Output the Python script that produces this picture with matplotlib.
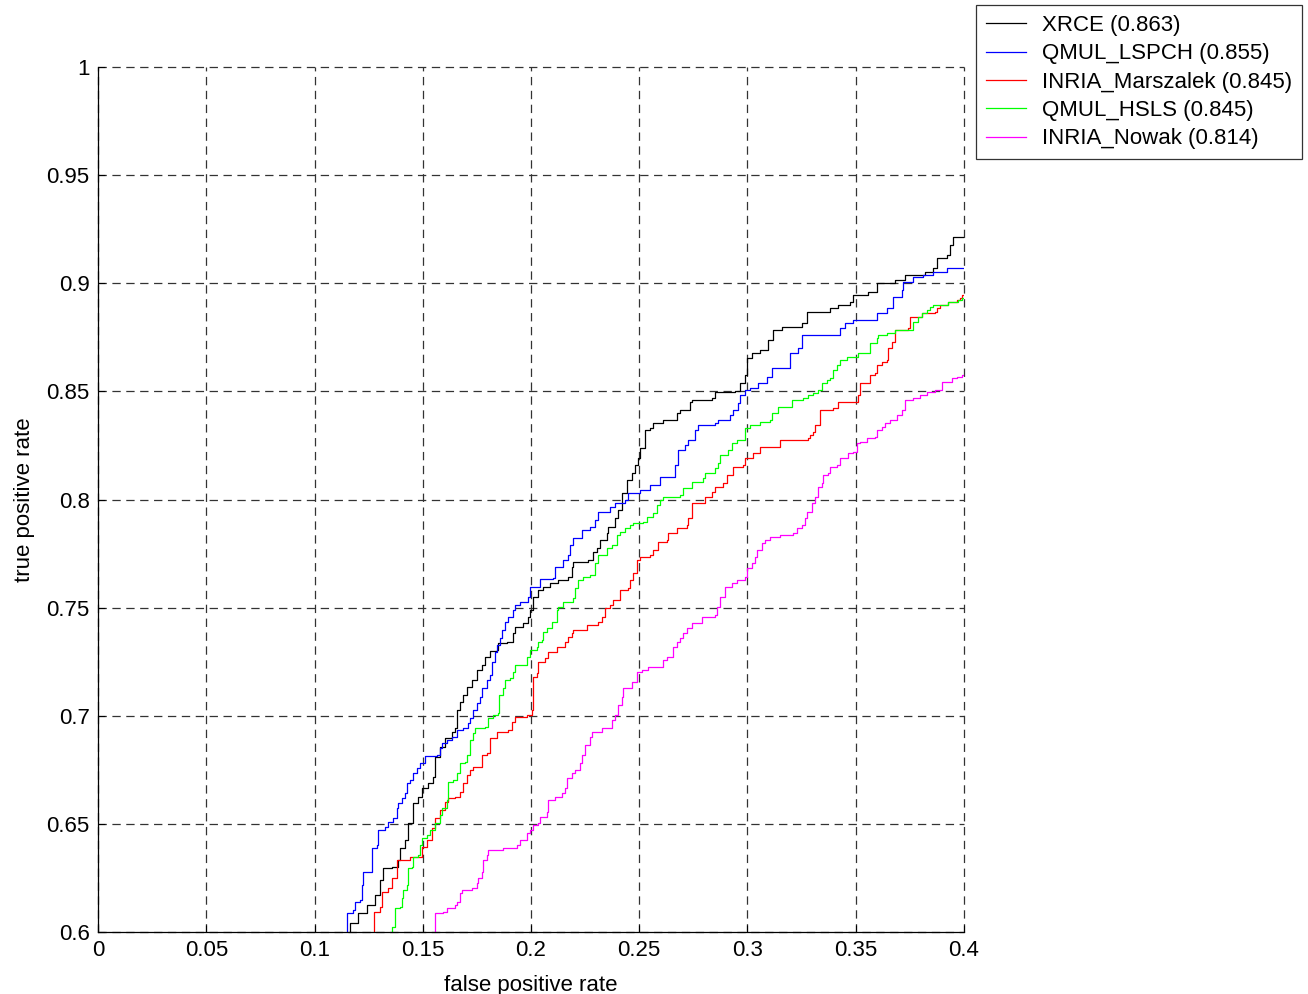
import numpy as np
import matplotlib
matplotlib.use("Agg")
import matplotlib.pyplot as plt

# nomes das series e AUC (legenda)
nomes = ["XRCE (0.863)", "QMUL_LSPCH (0.855)", "INRIA_Marszalek (0.845)",
         "QMUL_HSLS (0.845)", "INRIA_Nowak (0.814)"]
cores = ["#000000", "#0000ff", "#ff0000", "#00ff00", "#ff00ff"]

# ticks dos eixos
xticks = [0, 0.05, 0.1, 0.15, 0.2, 0.25, 0.3, 0.35, 0.4]
xtick_labels = ["0", "0.05", "0.1", "0.15", "0.2", "0.25", "0.3", "0.35", "0.4"]
yticks = [0.6, 0.65, 0.7, 0.75, 0.8, 0.85, 0.9, 0.95, 1.0]
ytick_labels = ["0.6", "0.65", "0.7", "0.75", "0.8", "0.85", "0.9", "0.95", "1"]

# curvas ROC: (false positive rate, true positive rate)
xrce = [(0.1155, 0.595), (0.1164, 0.6042), (0.1201, 0.6088), (0.1242, 0.6125), (0.1279, 0.6171),
        (0.1303, 0.6240), (0.1316, 0.6296), (0.1358, 0.6301), (0.1386, 0.6333), (0.1395, 0.6388),
        (0.1418, 0.6425), (0.1432, 0.6504), (0.1455, 0.6597), (0.1478, 0.6624), (0.1497, 0.6666),
        (0.1524, 0.6689), (0.1547, 0.6717), (0.1557, 0.6809), (0.1580, 0.6855), (0.1603, 0.6897),
        (0.1635, 0.6925), (0.1649, 0.6943), (0.1658, 0.7027), (0.1672, 0.7064), (0.1686, 0.7096),
        (0.1704, 0.7133), (0.1727, 0.7165), (0.1751, 0.7212), (0.1774, 0.7235), (0.1788, 0.7272),
        (0.1811, 0.7299), (0.1843, 0.7304), (0.1848, 0.7336), (0.1889, 0.7341), (0.1917, 0.7383),
        (0.1926, 0.7410), (0.1963, 0.7429), (0.1986, 0.7457), (0.1995, 0.7489), (0.2009, 0.7549),
        (0.2032, 0.7582), (0.2055, 0.7595), (0.2088, 0.7614), (0.2125, 0.7628), (0.2171, 0.7642),
        (0.2189, 0.7688), (0.2194, 0.7711), (0.2263, 0.7720), (0.2286, 0.7757), (0.2305, 0.7776),
        (0.2319, 0.7813), (0.2351, 0.7845), (0.2356, 0.7873), (0.2388, 0.7914), (0.2402, 0.7951),
        (0.2420, 0.8030), (0.2443, 0.8090), (0.2467, 0.8123), (0.2480, 0.8160), (0.2494, 0.8192),
        (0.2503, 0.8238), (0.2527, 0.8321), (0.2550, 0.8331), (0.2564, 0.8354), (0.2610, 0.8368),
        (0.2674, 0.8400), (0.2688, 0.8414), (0.2734, 0.8451), (0.2744, 0.8460), (0.2836, 0.8469),
        (0.2850, 0.8497), (0.2942, 0.8502), (0.2965, 0.8539), (0.2988, 0.8576), (0.2998, 0.8654),
        (0.3021, 0.8677), (0.3058, 0.8691), (0.3095, 0.8738), (0.3118, 0.8784), (0.3159, 0.8798),
        (0.3252, 0.8816), (0.3275, 0.8867), (0.3381, 0.8886), (0.3418, 0.8899), (0.3473, 0.8913),
        (0.3487, 0.8946), (0.3557, 0.8960), (0.3598, 0.9001), (0.3681, 0.9015), (0.3727, 0.9038),
        (0.3820, 0.9052), (0.3857, 0.9071), (0.3875, 0.9117), (0.3921, 0.9131), (0.3935, 0.9177),
        (0.3949, 0.9214), (0.4005, 0.9214)]

qmul_lspch = [(0.1127, 0.595), (0.1150, 0.6088), (0.1178, 0.6102), (0.1187, 0.6139), (0.1210, 0.6148),
              (0.1219, 0.6217), (0.1224, 0.6277), (0.1266, 0.6388), (0.1289, 0.6402), (0.1293, 0.6472),
              (0.1326, 0.6486), (0.1339, 0.6509), (0.1363, 0.6527), (0.1381, 0.6573), (0.1386, 0.6597),
              (0.1404, 0.6620), (0.1418, 0.6643), (0.1427, 0.6689), (0.1441, 0.6703), (0.1455, 0.6735),
              (0.1473, 0.6758), (0.1487, 0.6781), (0.1510, 0.6814), (0.1566, 0.6818), (0.1580, 0.6851),
              (0.1589, 0.6874), (0.1612, 0.6888), (0.1635, 0.6902), (0.1658, 0.6934), (0.1686, 0.6943),
              (0.1709, 0.6966), (0.1718, 0.6990), (0.1732, 0.7027), (0.1751, 0.7059), (0.1764, 0.7087),
              (0.1774, 0.7128), (0.1797, 0.7165), (0.1811, 0.7188), (0.1820, 0.7249), (0.1834, 0.7295),
              (0.1843, 0.7327), (0.1857, 0.7360), (0.1866, 0.7397), (0.1880, 0.7434), (0.1894, 0.7457),
              (0.1917, 0.7489), (0.1926, 0.7512), (0.1949, 0.7526), (0.1986, 0.7549), (0.1995, 0.7595),
              (0.2042, 0.7632), (0.2102, 0.7637), (0.2111, 0.7688), (0.2148, 0.7720), (0.2171, 0.7743),
              (0.2180, 0.7790), (0.2194, 0.7822), (0.2236, 0.7859), (0.2273, 0.7873), (0.2296, 0.7905),
              (0.2309, 0.7942), (0.2365, 0.7965), (0.2388, 0.7984), (0.2434, 0.7998), (0.2448, 0.8030),
              (0.2503, 0.8044), (0.2550, 0.8067), (0.2596, 0.8104), (0.2665, 0.8160), (0.2679, 0.8229),
              (0.2711, 0.8252), (0.2725, 0.8275), (0.2757, 0.8321), (0.2771, 0.8344), (0.2850, 0.8354),
              (0.2864, 0.8368), (0.2919, 0.8391), (0.2933, 0.8414), (0.2956, 0.8446), (0.2965, 0.8483),
              (0.2988, 0.8506), (0.3012, 0.8516), (0.3048, 0.8539), (0.3090, 0.8567), (0.3113, 0.8608),
              (0.3196, 0.8677), (0.3233, 0.8700), (0.3252, 0.8761), (0.3427, 0.8793), (0.3450, 0.8816),
              (0.3487, 0.8830), (0.3598, 0.8862), (0.3644, 0.8886), (0.3672, 0.8936), (0.3714, 0.8969),
              (0.3718, 0.9006), (0.3764, 0.9029), (0.3811, 0.9038), (0.3857, 0.9052), (0.3921, 0.9071),
              (0.4005, 0.9071)]

inria_marszalek = [(0.1266, 0.595), (0.1275, 0.6092), (0.1303, 0.6116), (0.1312, 0.6185), (0.1339, 0.6203),
                   (0.1358, 0.6250), (0.1381, 0.6333), (0.1441, 0.6347), (0.1497, 0.6393), (0.1520, 0.6425),
                   (0.1543, 0.6481), (0.1557, 0.6527), (0.1580, 0.6564), (0.1603, 0.6601), (0.1617, 0.6620),
                   (0.1649, 0.6624), (0.1672, 0.6647), (0.1686, 0.6689), (0.1704, 0.6726), (0.1718, 0.6749),
                   (0.1732, 0.6763), (0.1774, 0.6818), (0.1797, 0.6828), (0.1811, 0.6897), (0.1843, 0.6925),
                   (0.1894, 0.6934), (0.1912, 0.6971), (0.1926, 0.6994), (0.1982, 0.7003), (0.2005, 0.7027),
                   (0.2009, 0.7179), (0.2028, 0.7198), (0.2032, 0.7249), (0.2065, 0.7267), (0.2079, 0.7295),
                   (0.2120, 0.7318), (0.2157, 0.7341), (0.2171, 0.7364), (0.2189, 0.7383), (0.2194, 0.7397),
                   (0.2259, 0.7420), (0.2309, 0.7434), (0.2328, 0.7457), (0.2342, 0.7498), (0.2365, 0.7512),
                   (0.2379, 0.7535), (0.2411, 0.7582), (0.2448, 0.7591), (0.2457, 0.7628), (0.2471, 0.7660),
                   (0.2490, 0.7720), (0.2503, 0.7734), (0.2550, 0.7743), (0.2564, 0.7767), (0.2587, 0.7803),
                   (0.2628, 0.7813), (0.2633, 0.7845), (0.2674, 0.7868), (0.2720, 0.7882), (0.2725, 0.7914),
                   (0.2744, 0.7984), (0.2804, 0.8012), (0.2836, 0.8035), (0.2850, 0.8058), (0.2887, 0.8076),
                   (0.2905, 0.8113), (0.2933, 0.8150), (0.2979, 0.8160), (0.2988, 0.8192), (0.3025, 0.8215),
                   (0.3058, 0.8243), (0.3150, 0.8275), (0.3279, 0.8284), (0.3289, 0.8298), (0.3303, 0.8312),
                   (0.3312, 0.8344), (0.3335, 0.8414), (0.3395, 0.8423), (0.3418, 0.8451), (0.3510, 0.8483),
                   (0.3520, 0.8539), (0.3566, 0.8576), (0.3589, 0.8585), (0.3598, 0.8622), (0.3621, 0.8636),
                   (0.3644, 0.8645), (0.3649, 0.8700), (0.3667, 0.8728), (0.3681, 0.8784), (0.3741, 0.8793),
                   (0.3751, 0.8844), (0.3806, 0.8862), (0.3866, 0.8867), (0.3875, 0.8886), (0.3889, 0.8899),
                   (0.3926, 0.8913), (0.3968, 0.8922), (0.3982, 0.8932), (0.3991, 0.8946), (0.4005, 0.8946)]

qmul_hsls = [(0.1353, 0.595), (0.1358, 0.6023), (0.1372, 0.6111), (0.1395, 0.6116), (0.1404, 0.6157),
             (0.1409, 0.6194), (0.1427, 0.6217), (0.1432, 0.6296), (0.1450, 0.6301), (0.1455, 0.6347),
             (0.1478, 0.6356), (0.1487, 0.6402), (0.1497, 0.6435), (0.1520, 0.6449), (0.1533, 0.6472),
             (0.1557, 0.6504), (0.1580, 0.6541), (0.1589, 0.6573), (0.1612, 0.6610), (0.1617, 0.6694),
             (0.1640, 0.6703), (0.1658, 0.6735), (0.1672, 0.6781), (0.1695, 0.6786), (0.1704, 0.6818),
             (0.1718, 0.6888), (0.1732, 0.6920), (0.1741, 0.6943), (0.1788, 0.6948), (0.1801, 0.6990),
             (0.1824, 0.7003), (0.1848, 0.7013), (0.1852, 0.7096), (0.1871, 0.7128), (0.1880, 0.7165),
             (0.1903, 0.7175), (0.1917, 0.7202), (0.1926, 0.7235), (0.1982, 0.7272), (0.1995, 0.7304),
             (0.2028, 0.7318), (0.2032, 0.7341), (0.2051, 0.7350), (0.2055, 0.7387), (0.2074, 0.7406),
             (0.2097, 0.7434), (0.2120, 0.7489), (0.2125, 0.7503), (0.2148, 0.7526), (0.2194, 0.7545),
             (0.2203, 0.7591), (0.2217, 0.7628), (0.2240, 0.7642), (0.2273, 0.7651), (0.2296, 0.7706),
             (0.2309, 0.7743), (0.2351, 0.7776), (0.2374, 0.7790), (0.2397, 0.7836), (0.2411, 0.7850),
             (0.2434, 0.7868), (0.2457, 0.7882), (0.2471, 0.7891), (0.2517, 0.7896), (0.2536, 0.7919),
             (0.2564, 0.7938), (0.2582, 0.7975), (0.2596, 0.7998), (0.2610, 0.8012), (0.2688, 0.8021),
             (0.2702, 0.8053), (0.2744, 0.8081), (0.2794, 0.8099), (0.2804, 0.8123), (0.2850, 0.8146),
             (0.2864, 0.8169), (0.2873, 0.8206), (0.2910, 0.8229), (0.2928, 0.8261), (0.2952, 0.8275),
             (0.2988, 0.8331), (0.3012, 0.8344), (0.3058, 0.8358), (0.3104, 0.8368), (0.3113, 0.8400),
             (0.3141, 0.8428), (0.3206, 0.8460), (0.3256, 0.8469), (0.3279, 0.8483), (0.3303, 0.8492),
             (0.3326, 0.8506), (0.3344, 0.8539), (0.3367, 0.8553), (0.3381, 0.8562), (0.3395, 0.8599),
             (0.3413, 0.8622), (0.3427, 0.8645), (0.3460, 0.8659), (0.3510, 0.8677), (0.3566, 0.8724),
             (0.3598, 0.8747), (0.3603, 0.8761), (0.3644, 0.8770), (0.3681, 0.8784), (0.3764, 0.8821),
             (0.3788, 0.8844), (0.3806, 0.8862), (0.3829, 0.8876), (0.3843, 0.8890), (0.3857, 0.8899),
             (0.3926, 0.8913), (0.3972, 0.8922), (0.3991, 0.8932), (0.4005, 0.8936)]

inria_nowak = [(0.1547, 0.595), (0.1557, 0.6088), (0.1594, 0.6092), (0.1612, 0.6111), (0.1649, 0.6125),
               (0.1658, 0.6139), (0.1672, 0.6180), (0.1681, 0.6194), (0.1727, 0.6203), (0.1751, 0.6227),
               (0.1755, 0.6250), (0.1774, 0.6277), (0.1778, 0.6333), (0.1797, 0.6356), (0.1801, 0.6379),
               (0.1871, 0.6388), (0.1935, 0.6402), (0.1949, 0.6425), (0.1982, 0.6458), (0.1995, 0.6472),
               (0.2009, 0.6495), (0.2032, 0.6504), (0.2042, 0.6532), (0.2074, 0.6555), (0.2079, 0.6610),
               (0.2111, 0.6624), (0.2143, 0.6643), (0.2157, 0.6666), (0.2166, 0.6712), (0.2189, 0.6735),
               (0.2203, 0.6749), (0.2226, 0.6781), (0.2236, 0.6818), (0.2249, 0.6865), (0.2273, 0.6902),
               (0.2282, 0.6925), (0.2328, 0.6943), (0.2374, 0.6980), (0.2388, 0.7003), (0.2402, 0.7050),
               (0.2420, 0.7087), (0.2425, 0.7128), (0.2467, 0.7156), (0.2490, 0.7202), (0.2513, 0.7212),
               (0.2540, 0.7225), (0.2610, 0.7258), (0.2628, 0.7272), (0.2656, 0.7318), (0.2674, 0.7341),
               (0.2688, 0.7360), (0.2702, 0.7383), (0.2720, 0.7406), (0.2744, 0.7429), (0.2790, 0.7457),
               (0.2850, 0.7466), (0.2859, 0.7503), (0.2873, 0.7549),
               (0.2896, 0.7595), (0.2928, 0.7614), (0.2952, 0.7628), (0.2988, 0.7642), (0.2998, 0.7683),
               (0.3021, 0.7706), (0.3035, 0.7734), (0.3044, 0.7767), (0.3067, 0.7799), (0.3081, 0.7813),
               (0.3104, 0.7827), (0.3150, 0.7836), (0.3210, 0.7845), (0.3229, 0.7868), (0.3252, 0.7882),
               (0.3266, 0.7914), (0.3275, 0.7942), (0.3298, 0.7984), (0.3312, 0.8012), (0.3326, 0.8058),
               (0.3344, 0.8076), (0.3349, 0.8113), (0.3372, 0.8123), (0.3381, 0.8150), (0.3413, 0.8160),
               (0.3427, 0.8192), (0.3464, 0.8215), (0.3487, 0.8220), (0.3506, 0.8261), (0.3520, 0.8266),
               (0.3552, 0.8284), (0.3589, 0.8289), (0.3598, 0.8321), (0.3621, 0.8335), (0.3635, 0.8354),
               (0.3658, 0.8368), (0.3691, 0.8391), (0.3714, 0.8414), (0.3727, 0.8460), (0.3764, 0.8469),
               (0.3797, 0.8483), (0.3829, 0.8497), (0.3866, 0.8506), (0.3898, 0.8543), (0.3945, 0.8562),
               (0.3968, 0.8567), (0.3991, 0.8576), (0.4005, 0.8576)]

curvas = [xrce, qmul_lspch, inria_marszalek, qmul_hsls, inria_nowak]

plt.rcParams["font.family"] = ["Liberation Sans", "DejaVu Sans"]
plt.rcParams["lines.scale_dashes"] = False

fig = plt.figure(figsize=(13.08, 9.94), dpi=100)
ax = fig.add_axes([98 / 1308, 62 / 994, 866 / 1308, 865 / 994])

# desenha as curvas em degraus
for curva, nome, cor in zip(curvas, nomes, cores):
    xs = [p[0] for p in curva]
    ys = [p[1] for p in curva]
    ax.step(xs, ys, where="post", color=cor, linewidth=0.9, label=nome)

ax.set_xlim(0, 0.4)
ax.set_ylim(0.6, 1.0)
ax.set_xticks(xticks)
ax.set_xticklabels(xtick_labels)
ax.set_yticks(yticks)
ax.set_yticklabels(ytick_labels)
ax.tick_params(direction="in", length=5, width=0.8, labelsize=16, pad=6)

# grade tracejada estilo matlab
ax.grid(True, color="#333333", linestyle=(0, (6, 4)), linewidth=0.9)
for g in ax.get_xgridlines() + ax.get_ygridlines():
    g.set_clip_on(False)
ax.spines["top"].set_visible(False)
ax.spines["right"].set_visible(False)
ax.spines["left"].set_linewidth(0.9)
ax.spines["bottom"].set_linewidth(0.9)

ax.set_xlabel("false positive rate", fontsize=16, labelpad=10)
ax.set_ylabel("true positive rate", fontsize=16, labelpad=8)

leg = fig.legend(loc="upper left", bbox_to_anchor=(976 / 1308, 1 - 5 / 994),
                 fontsize=16, frameon=True, fancybox=False, borderaxespad=0,
                 handlelength=1.8, handletextpad=0.7, labelspacing=0.33,
                 borderpad=0.45)
leg.get_frame().set_edgecolor("black")
leg.get_frame().set_linewidth(0.9)
for linha in leg.get_lines():
    linha.set_linewidth(0.9)

plt.savefig("out.png", dpi=100)
